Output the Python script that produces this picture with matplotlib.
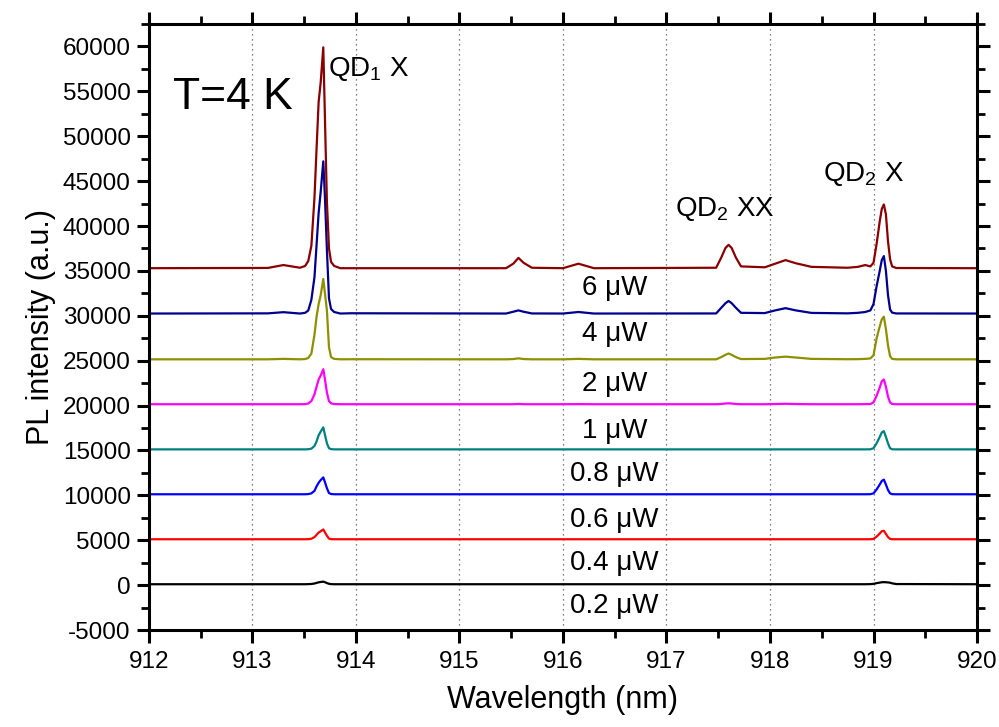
import matplotlib
matplotlib.use("Agg")
import matplotlib.pyplot as plt
from matplotlib.ticker import MultipleLocator

plt.rcParams['font.family'] = ['Liberation Sans', 'DejaVu Sans']
plt.rcParams['mathtext.fontset'] = 'custom'
plt.rcParams['mathtext.rm'] = 'Liberation Sans'
plt.rcParams['mathtext.it'] = 'Liberation Sans:italic'
plt.rcParams['axes.unicode_minus'] = False

# Wavelength sampling points (nm) shared by all spectra
wavelength_nm = [912.00, 913.15, 913.30,
                 913.46, 913.51, 913.54, 913.57, 913.60, 913.62, 913.64, 913.66, 913.685,
                 913.70, 913.72, 913.74, 913.76, 913.79, 913.85,
                 913.95,
                 915.45, 915.52, 915.57, 915.62, 915.70,
                 916.00, 916.15, 916.30,
                 917.48, 917.53, 917.57, 917.60, 917.63, 917.67, 917.72,
                 917.95, 918.05, 918.15, 918.25, 918.40,
                 918.75, 918.85, 918.92, 918.97, 919.00, 919.03, 919.06, 919.08, 919.10,
                 919.12, 919.14, 919.16, 919.18, 919.22,
                 920.00]

# PL intensity (a.u.) of each spectrum before vertical offset
pl_0p2uW = [100, 100, 100,
            100, 100, 110, 130, 180, 250, 310, 350, 390, 330, 230, 150, 110, 100, 100,
            100,
            100, 100, 100, 100, 100,
            100, 100, 100,
            100, 100, 100, 100, 100, 100, 100,
            100, 100, 100, 100, 100,
            100, 100, 100, 110, 140, 220, 280, 320, 330, 320, 300, 270, 200, 120,
            100]
pl_0p4uW = [110, 110, 110,
            110, 110, 120, 170, 350, 600, 850, 1000, 1200, 900, 500, 180, 120, 110, 110,
            110,
            110, 110, 110, 110, 110,
            110, 110, 110,
            110, 110, 110, 110, 110, 110, 110,
            110, 110, 110, 110, 110,
            110, 110, 110, 110, 150, 400, 750, 1000, 1050, 700, 350, 150, 110, 110,
            110]
pl_0p6uW = [120, 120, 120,
            120, 120, 140, 220, 500, 1000, 1400, 1700, 2000, 1500, 800, 250, 150, 120, 120,
            120,
            120, 120, 120, 120, 120,
            120, 120, 120,
            120, 120, 120, 120, 120, 120, 120,
            120, 120, 120, 120, 120,
            120, 120, 120, 130, 220, 650, 1200, 1600, 1750, 1200, 600, 220, 130, 120,
            120]
pl_0p8uW = [120, 120, 120,
            120, 120, 140, 200, 500, 1000, 1700, 2100, 2570, 1800, 800, 250, 150, 120, 120,
            120,
            120, 120, 120, 120, 120,
            120, 120, 120,
            120, 120, 120, 120, 120, 120, 120,
            120, 120, 120, 120, 120,
            120, 120, 120, 130, 250, 800, 1500, 2000, 2150, 1500, 800, 250, 130, 120,
            120]
pl_1uW = [150, 150, 150,
          150, 160, 230, 500, 1250, 2100, 2900, 3350, 4050, 3000, 1450, 500, 250, 170, 150,
          150,
          150, 150, 180, 150, 150,
          150, 160, 150,
          150, 180, 230, 250, 230, 180, 150,
          150, 170, 200, 170, 150,
          150, 150, 160, 170, 350, 1100, 2000, 2700, 2900, 2100, 1000, 350, 170, 150,
          150]
pl_2uW = [150, 150, 200,
          150, 180, 300, 800, 2900, 4900, 6300, 7300, 9100, 7600, 5600, 1500, 400, 200, 150,
          160,
          150, 180, 260, 180, 150,
          150, 200, 150,
          150, 400, 650, 800, 650, 400, 180,
          200, 350, 450, 350, 200,
          160, 170, 200, 250, 600, 2500, 3800, 4600, 4900, 3500, 1700, 500, 200, 150,
          150]
pl_4uW = [250, 270, 400,
          250, 330, 590, 1780, 4320, 7880, 11440, 13810, 17200, 13470, 7370, 1950, 760, 420, 250,
          280,
          250, 450, 600, 450, 260,
          250, 420, 250,
          260, 900, 1400, 1650, 1400, 900, 330,
          300, 600, 850, 600, 320,
          270, 330, 420, 600, 1300, 3300, 5000, 6200, 6650, 5000, 2300, 700, 350, 260,
          250]
pl_6uW = [300, 330, 650,
          350, 550, 1100, 2800, 8200, 13600, 18800, 21000, 24900, 17500, 7700, 2500, 1000, 550, 300,
          300,
          300, 800, 1450, 900, 350,
          300, 800, 300,
          350, 1500, 2550, 2900, 2550, 1500, 500,
          400, 800, 1200, 850, 450,
          350, 450, 650, 500, 900, 3000, 5500, 6900, 7400, 6300, 3300, 1300, 500, 320,
          300]

spectra = [pl_0p2uW, pl_0p4uW, pl_0p6uW, pl_0p8uW, pl_1uW, pl_2uW, pl_4uW, pl_6uW]
power_labels = ['0.2 μW', '0.4 μW', '0.6 μW', '0.8 μW', '1 μW', '2 μW', '4 μW', '6 μW']
offsets = [0, 5000, 10000, 15000, 20000, 25000, 30000, 35000]

colors = ['#000000', '#ff0000', '#0000ff', '#008080', '#ff00ff', '#8f8f00', '#000090', '#8b0000']
label_x = 916.5
label_y = [-2300, 2450, 7200, 12350, 17200, 22450, 28000, 33100]

fig = plt.figure(figsize=(9.99, 7.27), dpi=100)
ax = fig.add_axes([0.149, 0.1334, 0.829, 0.8336])

for spec, off, c in zip(spectra, offsets, colors):
    ax.plot(wavelength_nm, [v + off for v in spec], color=c, lw=1.6)

for lab, y in zip(power_labels, label_y):
    ax.text(label_x, y, lab, ha='center', va='center', fontsize=20)

ax.text(912.23, 53000, 'T=4 K', fontsize=32, ha='left', va='baseline')
ax.text(913.73, 56700, 'QD$_1$ X', fontsize=20, ha='left', va='baseline')
ax.text(917.08, 41100, 'QD$_2$ XX', fontsize=20, ha='left', va='baseline')
ax.text(918.51, 45000, 'QD$_2$ X', fontsize=20, ha='left', va='baseline')

ax.set_xlim(912, 920)
ax.set_ylim(-5000, 62500)
ax.xaxis.set_major_locator(MultipleLocator(1))
ax.xaxis.set_minor_locator(MultipleLocator(0.5))
ax.yaxis.set_major_locator(MultipleLocator(5000))
ax.yaxis.set_minor_locator(MultipleLocator(2500))

ax.grid(True, axis='x', which='major', linestyle=(0, (1, 3)), color='#555555', lw=0.9)

for s in ax.spines.values():
    s.set_linewidth(2.2)
ax.tick_params(which='major', direction='out', length=9, width=2.2,
               top=True, right=True, labeltop=False, labelright=False)
ax.tick_params(which='minor', direction='out', length=6, width=2.0,
               top=True, right=True)
ax.tick_params(axis='x', which='major', labelsize=17.5, pad=6)
ax.tick_params(axis='y', which='major', labelsize=17.5, pad=4)

ax.set_xlabel('Wavelength (nm)', fontsize=22, labelpad=9)
ax.set_ylabel('PL intensity (a.u.)', fontsize=22, labelpad=5)

fig.savefig('out.png', dpi=100)
